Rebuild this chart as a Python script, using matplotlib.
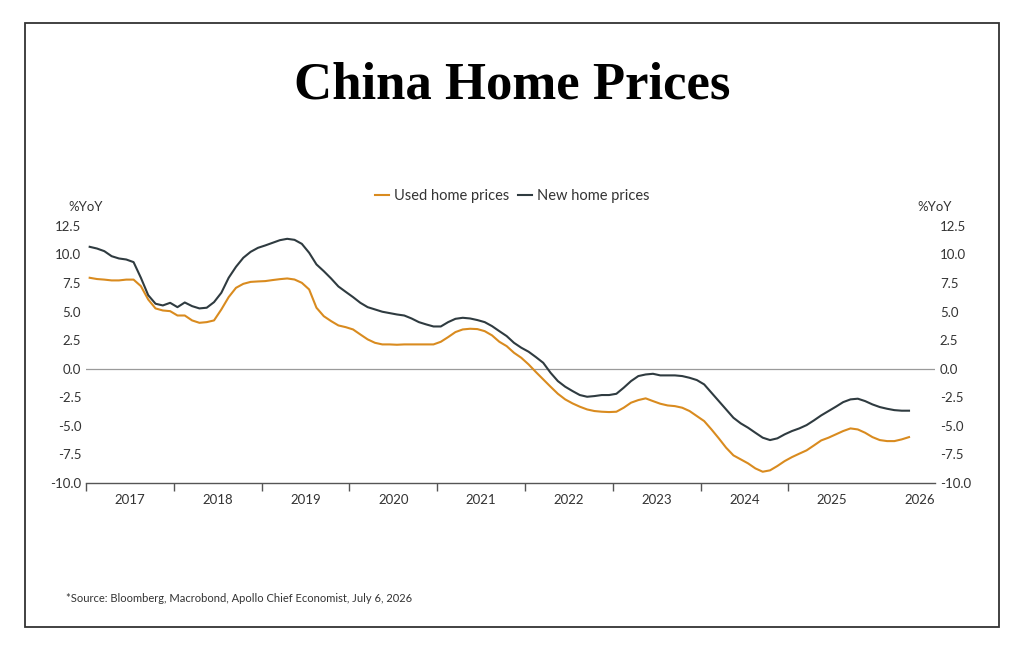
import numpy as np
import matplotlib
matplotlib.use("Agg")
import matplotlib.pyplot as plt
from matplotlib.patches import Rectangle

# monthly YoY readings, Jan 2017 .. May 2026
new_home = [
    10.67, 10.52, 10.29, 9.85, 9.65, 9.56, 9.33, 7.96, 6.44, 5.69, 5.54, 5.77,
    5.39, 5.80, 5.48, 5.28, 5.34, 5.83, 6.65, 7.96, 8.92, 9.71, 10.23, 10.58,
    10.79, 11.02, 11.25, 11.37, 11.28, 10.93, 10.15, 9.13, 8.54, 7.90, 7.20, 6.73,
    6.27, 5.77, 5.39, 5.19, 4.99, 4.87, 4.75, 4.66, 4.40, 4.08, 3.88, 3.70,
    3.70, 4.08, 4.37, 4.46, 4.40, 4.26, 4.08, 3.73, 3.29, 2.86, 2.27, 1.84,
    1.49, 1.02, 0.52, -0.35, -1.08, -1.57, -1.95, -2.30, -2.45, -2.39, -2.30, -2.30,
    -2.19, -1.66, -1.08, -0.64, -0.50, -0.44, -0.58, -0.58, -0.58, -0.64, -0.79, -0.99,
    -1.37, -2.10, -2.83, -3.56, -4.29, -4.78, -5.16, -5.60, -6.03, -6.24, -6.09, -5.74,
    -5.45, -5.22, -4.93, -4.52, -4.08, -3.70, -3.32, -2.92, -2.68, -2.62, -2.83, -3.12,
    -3.35, -3.50, -3.62, -3.67, -3.67,
]
used_home = [
    7.96, 7.85, 7.80, 7.73, 7.73, 7.80, 7.80, 7.23, 6.06, 5.28, 5.10, 5.04,
    4.66, 4.66, 4.23, 4.02, 4.08, 4.23, 5.19, 6.27, 7.08, 7.43, 7.60, 7.64,
    7.67, 7.76, 7.84, 7.90, 7.81, 7.52, 6.94, 5.34, 4.60, 4.17, 3.79, 3.64,
    3.44, 3.00, 2.57, 2.27, 2.13, 2.13, 2.10, 2.13, 2.13, 2.13, 2.13, 2.13,
    2.36, 2.77, 3.21, 3.44, 3.50, 3.47, 3.29, 2.92, 2.36, 1.98, 1.40, 0.96,
    0.38, -0.29, -0.93, -1.57, -2.19, -2.68, -3.03, -3.32, -3.56, -3.70, -3.76, -3.79,
    -3.76, -3.41, -2.97, -2.74, -2.59, -2.83, -3.06, -3.21, -3.27, -3.41, -3.70, -4.14,
    -4.58, -5.31, -6.09, -6.91, -7.58, -7.93, -8.28, -8.72, -9.01, -8.89, -8.51, -8.08,
    -7.73, -7.43, -7.14, -6.71, -6.27, -6.03, -5.74, -5.45, -5.22, -5.31, -5.60, -5.98,
    -6.24, -6.33, -6.33, -6.18, -5.98,
]
years = list(range(2017, 2027))
y_ticks = [-10.0, -7.5, -5.0, -2.5, 0.0, 2.5, 5.0, 7.5, 10.0, 12.5]

ORANGE = "#d98b1f"
DARK = "#2f3b40"
TXT = "#333333"

plt.rcParams['font.family'] = ['Lato', 'DejaVu Sans']

fig = plt.figure(figsize=(10.24, 6.51), dpi=100)
fig.patch.set_facecolor("white")

# outer frame
fig.patches.append(Rectangle((0.0244, 0.0369), 0.9512, 0.9278, transform=fig.transFigure,
                             fill=False, edgecolor="#333333", linewidth=1.3))

ax = fig.add_axes([0.084, 0.258, 0.829, 0.395])
x = 2017 + (np.arange(len(new_home)) + 0.5) / 12.0

ax.axhline(0, color="#9a9a9a", linewidth=0.9, zorder=1)
ax.plot(x, used_home, color=ORANGE, linewidth=1.5, label="Used home prices", zorder=3)
ax.plot(x, new_home, color=DARK, linewidth=1.5, label="New home prices", zorder=3)

ax.set_xlim(2017, 2026.67)
ax.set_ylim(-10, 12.5)
ax.set_yticks(y_ticks)
ax.set_yticklabels([f"{v:.1f}" for v in y_ticks])
ax.tick_params(axis="y", length=0, pad=3.5, labelsize=9.5, labelcolor=TXT,
               left=True, right=True, labelleft=True, labelright=True)

ax.set_xticks(years[:-1])
ax.set_xticklabels([])
ax.set_xticks([yr + 0.5 for yr in years], minor=True)
ax.set_xticklabels([str(yr) for yr in years], minor=True)
ax.tick_params(axis="x", which="major", length=6, width=1, color="#555555", direction="out")
ax.tick_params(axis="x", which="minor", length=0, pad=8, labelsize=9.5, labelcolor=TXT)

for s in ["top", "left", "right"]:
    ax.spines[s].set_visible(False)
ax.spines["bottom"].set_color("#555555")
ax.spines["bottom"].set_linewidth(1)

leg = ax.legend(loc="center", bbox_to_anchor=(0.5, 0.699), bbox_transform=fig.transFigure,
                ncol=2, frameon=False, fontsize=10.5, handlelength=1.0, handletextpad=0.3,
                columnspacing=0.6)
for t in leg.get_texts():
    t.set_color(TXT)

fig.text(0.0664, 0.682, "%YoY", fontsize=9.5, color=TXT, ha="left", va="center")
fig.text(0.896, 0.682, "%YoY", fontsize=9.5, color=TXT, ha="left", va="center")

fig.text(0.5, 0.869, "China Home Prices", fontsize=38, fontweight="bold",
         family=["Liberation Serif", "DejaVu Serif"], color="black", ha="center", va="center")

fig.text(0.0645, 0.0814, "*Source: Bloomberg, Macrobond, Apollo Chief Economist, July 6, 2026",
         fontsize=8, color=TXT, ha="left", va="center")

fig.savefig("out.png", dpi=100)
